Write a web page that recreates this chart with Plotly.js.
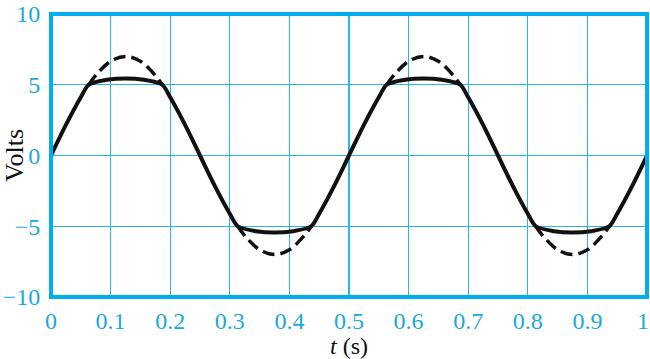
<!DOCTYPE html>
<html>
<head>
<meta charset="utf-8">
<script src="https://cdn.plot.ly/plotly-3.0.1.min.js"></script>
<style>html,body{margin:0;padding:0;background:#fff;}#chart{width:650px;height:359px;}</style>
</head>
<body>
<div id="chart"></div>
<script>
// Solid (clipped) waveform
const solidT = [0, 0.025, 0.05, 0.0633, 0.094, 0.125, 0.156, 0.1867, 0.2, 0.225, 0.25,
                0.275, 0.3, 0.3133, 0.344, 0.375, 0.406, 0.4367, 0.45, 0.475, 0.5,
                0.525, 0.55, 0.5633, 0.594, 0.625, 0.656, 0.6867, 0.7, 0.725, 0.75,
                0.775, 0.8, 0.8133, 0.844, 0.875, 0.906, 0.9367, 0.95, 0.975, 1.0];
const solidV = [0, 2.16, 4.11, 5.0, 5.35, 5.45, 5.35, 5.0, 4.11, 2.16, 0,
                -2.16, -4.11, -5.0, -5.35, -5.45, -5.35, -5.0, -4.11, -2.16, 0,
                2.16, 4.11, 5.0, 5.35, 5.45, 5.35, 5.0, 4.11, 2.16, 0,
                -2.16, -4.11, -5.0, -5.35, -5.45, -5.35, -5.0, -4.11, -2.16, 0];
// Dashed (unclipped) peaks
const dashT = [0.0633, 0.075, 0.1, 0.125, 0.15, 0.175, 0.1867, null,
               0.3133, 0.325, 0.35, 0.375, 0.4, 0.425, 0.4367, null,
               0.5633, 0.575, 0.6, 0.625, 0.65, 0.675, 0.6867, null,
               0.8133, 0.825, 0.85, 0.875, 0.9, 0.925, 0.9367];
const dashV = [5.0, 5.66, 6.66, 7.0, 6.66, 5.66, 5.0, null,
               -5.0, -5.66, -6.66, -7.0, -6.66, -5.66, -5.0, null,
               5.0, 5.66, 6.66, 7.0, 6.66, 5.66, 5.0, null,
               -5.0, -5.66, -6.66, -7.0, -6.66, -5.66, -5.0];
const xTickVals = [0, 0.1, 0.2, 0.3, 0.4, 0.5, 0.6, 0.7, 0.8, 0.9, 1];
const xTickText = ['0', '0.1', '0.2', '0.3', '0.4', '0.5', '0.6', '0.7', '0.8', '0.9', ''];
const xLastTick = 1;
const xLastTickText = '1';
const yTickVals = [-10, -5, 0, 5, 10];
const yTickText = ['\u221210', '\u22125', '0', '5', '10'];

const cyan = '#00aeef';
const gridCyan = '#2bb5ea';
const labelCyan = '#1aa8e2';
const serif = '"Liberation Serif", serif';

const traces = [
  {x: dashT, y: dashV, mode: 'lines', connectgaps: false,
   line: {color: '#111', width: 3.5, dash: '12px,6px', shape: 'spline', smoothing: 1}, hoverinfo: 'skip'},
  {x: solidT, y: solidV, mode: 'lines',
   line: {color: '#111', width: 4, shape: 'spline', smoothing: 0.8}, hoverinfo: 'skip'}
];

const layout = {
  width: 650, height: 359,
  margin: {l: 51, r: 3, t: 14, b: 62},
  paper_bgcolor: '#fff', plot_bgcolor: '#fff',
  showlegend: false,
  xaxis: {
    range: [0, 1], tickvals: xTickVals, ticktext: xTickText,
    showgrid: true, gridcolor: gridCyan, gridwidth: 1.3, zeroline: false,
    ticks: 'outside', ticklen: 2, tickcolor: 'rgba(0,0,0,0)',
    tickfont: {family: serif, size: 24, color: labelCyan},
    title: {text: '<i>t</i> (s)', font: {family: serif, size: 24, color: '#111'}, standoff: 6},
    showline: false, fixedrange: true
  },
  yaxis: {
    range: [-10, 10], tickvals: yTickVals, ticktext: yTickText,
    showgrid: true, gridcolor: gridCyan, gridwidth: 1.3, zeroline: false,
    ticks: 'outside', ticklen: 5, tickcolor: 'rgba(0,0,0,0)',
    ticklabeloverflow: 'allow',
    tickfont: {family: serif, size: 24, color: labelCyan},
    title: {text: 'Volts', font: {family: serif, size: 26, color: '#111'}, standoff: 2},
    showline: false, fixedrange: true
  },
  annotations: [
    {x: xLastTick, xref: 'x', y: 0, yref: 'paper', text: xLastTickText, showarrow: false,
     xanchor: 'center', yanchor: 'top', xshift: -4, yshift: -9,
     font: {family: serif, size: 24, color: labelCyan}}
  ],
  shapes: [
    {type: 'rect', xref: 'paper', yref: 'paper', x0: 0, x1: 1, y0: 0, y1: 1,
     line: {color: cyan, width: 4}, layer: 'above'}
  ]
};

Plotly.newPlot('chart', traces, layout, {staticPlot: true, displayModeBar: false});
</script>
</body>
</html>
